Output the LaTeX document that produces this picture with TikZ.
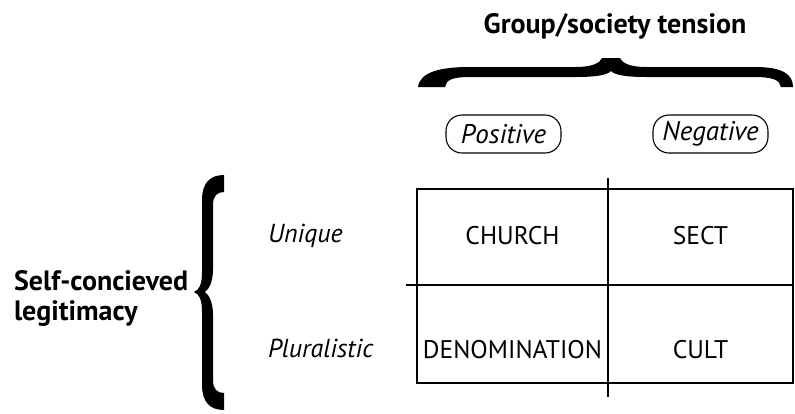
\documentclass[tikz,border=0pt]{standalone}
\usepackage{fontspec}
\setmainfont{PT Sans}
\begin{document}
\begin{tikzpicture}[x=1bp,y=-1bp,
  every node/.style={inner sep=0pt,outer sep=0pt},
  body/.style={font=\fontsize{25.5bp}{29bp}\selectfont},
  bodyit/.style={font=\fontsize{26bp}{29bp}\selectfont\itshape},
  heading/.style={font=\fontsize{28bp}{32bp}\selectfont\bfseries},
  pill/.style={draw,line width=1.1bp,rounded corners=16bp,minimum width=115bp,minimum height=38bp,
    font=\fontsize{27bp}{30bp}\selectfont\itshape},
  grid/.style={line width=1.3bp},
  bracefill/.style={fill=black,draw=none}]
\useasboundingbox (0,0) rectangle (795,413);

% title
\node[heading,anchor=base] (title) at (615,33) {Group/society tension};

% top brace
\fill[bracefill] (418,87) .. controls (420,72) and (440,67) .. (470,67)
  -- (575,67) .. controls (595,67) and (600,62) .. (602,58)
  -- (620,58) .. controls (622,62) and (627,67) .. (647,67)
  -- (755,67) .. controls (782,67) and (793,74) .. (793,87)
  -- (781,87) .. controls (780,80) and (772,77) .. (755,77)
  -- (647,77) .. controls (625,77) and (615,75) .. (611,71)
  .. controls (607,75) and (597,77) .. (575,77)
  -- (470,77) .. controls (452,77) and (446,80) .. (445,87) -- cycle;

% column headers
\node[pill] (pos) at (503.5,134) {Positive};
\node[pill] (neg) at (710.5,134) {Negative};

% left label
\node[heading,anchor=base west] (self) at (14,290) {Self-concieved};
\node[heading,anchor=base west] (legit) at (14,320) {legitimacy};

% left brace
\fill[bracefill] (224,175) .. controls (210,175) and (202,183) .. (202,200)
  -- (202,272) .. controls (202,285) and (199,290) .. (194,292)
  .. controls (199,294) and (202,299) .. (202,312)
  -- (202,385) .. controls (202,402) and (210,410) .. (224,410)
  -- (224,393) .. controls (217,393) and (213,389) .. (213,380)
  -- (213,315) .. controls (213,302) and (209,295) .. (205,292)
  .. controls (209,289) and (213,282) .. (213,269)
  -- (213,205) .. controls (213,196) and (217,192) .. (224,192) -- cycle;

% row labels
\node[bodyit,anchor=base west] (uni) at (268,242) {Unique};
\node[bodyit,anchor=base west] (plu) at (268,357) {Pluralistic};

% table
\coordinate (tl) at (417,189);
\coordinate (br) at (793,383);
\coordinate (hl) at (406,285);
\coordinate (hr) at (793,285);
\coordinate (vt) at (608,178);
\coordinate (vb) at (608,397);
\draw[grid] (tl) rectangle (br);
\draw[grid] (hl) -- (hr);
\draw[grid] (vt) -- (vb);

% cells
\node[body,anchor=base] (church) at (512.5,244) {CHURCH};
\node[body,anchor=base] (sect) at (700.5,244) {SECT};
\node[body,anchor=base] (denom) at (512.5,358) {DENOMINATION};
\node[body,anchor=base] (cult) at (700.5,358) {CULT};
\end{tikzpicture}
\end{document}
